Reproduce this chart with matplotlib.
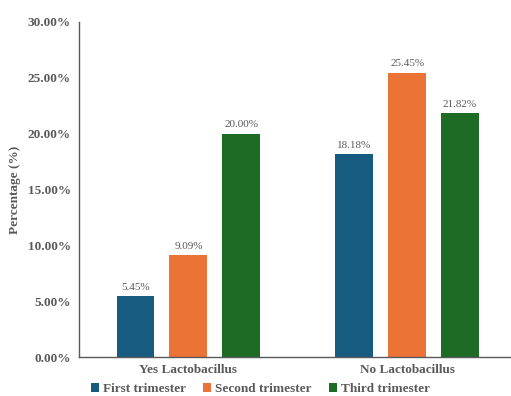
import matplotlib.pyplot as plt
import numpy as np

plt.rcParams['font.family'] = ['Liberation Serif', 'DejaVu Serif']

groups = ['Yes Lactobacillus', 'No Lactobacillus']
series = ['First trimester', 'Second trimester', 'Third trimester']
values = [[5.45, 18.18], [9.09, 25.45], [20.00, 21.82]]
colors = ['#175C80', '#EB7336', '#1D6B25']
grey = '#595959'

fig = plt.figure(figsize=(5.11, 3.96), dpi=100)
ax = fig.add_axes([79 / 511, 39 / 396, 431 / 511, 335 / 396])

x = np.arange(len(groups))
w = 0.173
step = 0.242
for i, (name, vals) in enumerate(zip(series, values)):
    bars = ax.bar(x + (i - 1) * step, vals, w, color=colors[i], label=name)
    for b, v in zip(bars, vals):
        ax.text(b.get_x() + b.get_width() / 2, v + 0.4, f'{v:.2f}%',
                ha='center', va='bottom', fontsize=8, color=grey)

ax.set_xlim(-0.5, 1.47)
ax.set_ylim(0, 30)
ax.set_yticks(np.arange(0, 31, 5))
ax.set_yticklabels([f'{t:.2f}%' for t in np.arange(0, 31, 5)])
ax.set_xticks(x)
ax.set_xticklabels(groups)
for lab in ax.get_xticklabels() + ax.get_yticklabels():
    lab.set_fontweight('bold')
    lab.set_color(grey)
    lab.set_fontsize(9.5)
ax.tick_params(length=0, pad=6)
ax.tick_params(axis='x', pad=5)
ax.set_ylabel('Percentage (%)', fontsize=9.5, fontweight='bold', color=grey, labelpad=5)

for s in ['top', 'right']:
    ax.spines[s].set_visible(False)
for s in ['left', 'bottom']:
    ax.spines[s].set_color(grey)
    ax.spines[s].set_linewidth(1)

leg = fig.legend(loc='center', bbox_to_anchor=(0.51, 1 - 389 / 396), ncol=3, frameon=False,
                 handlelength=0.6, handleheight=0.6, handletextpad=0.3, columnspacing=1.3,
                 prop={'family': 'Liberation Serif', 'weight': 'bold', 'size': 9.5})
for t in leg.get_texts():
    t.set_color(grey)

fig.savefig('out.png', dpi=100)
